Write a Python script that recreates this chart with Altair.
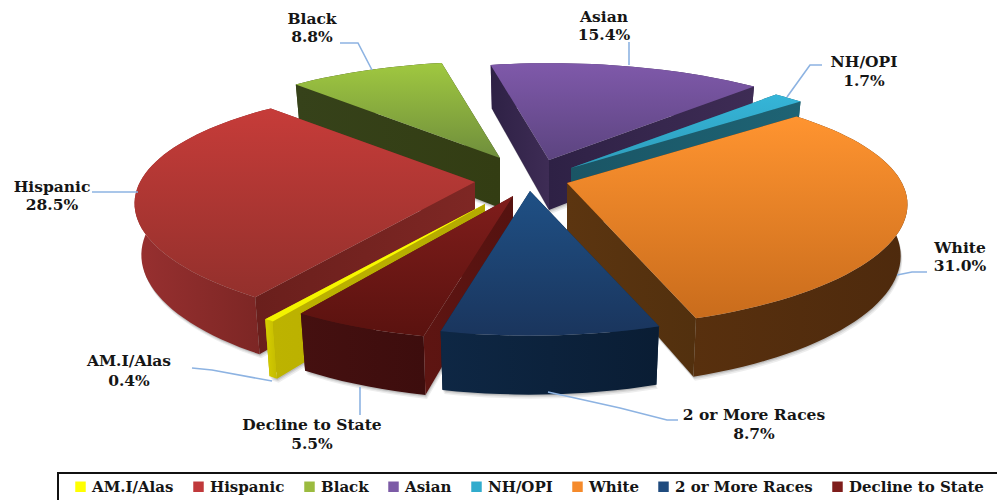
import math
import altair as alt

# Enrollment shares, listed clockwise starting at the narrow American Indian slice
categories = ["AM.I/Alas", "Hispanic", "Black", "Asian", "NH/OPI", "White",
              "2 or More Races", "Decline to State"]
shares = [0.4, 28.5, 8.8, 15.4, 1.7, 31.0, 8.7, 5.5]
legend_colors = ["#FFFF00", "#C0393B", "#9BBB3F", "#7C5BA6", "#31ACCD", "#F58A2B",
                 "#1F4B7E", "#7E1D1B"]

# Angle (degrees clockwise from the back of the pie) where the first slice begins
FIRST_ANGLE = 212.5

# 3D pie geometry
RX, RY, TILT, DEPTH = 335.0, 116.0, 0.198, 50.0
# Apex of each exploded slice in page units
apex = {
    "AM.I/Alas": (485, 204), "Hispanic": (475, 182), "Black": (500, 158),
    "Asian": (549, 160), "NH/OPI": (571, 168), "White": (567, 183),
    "2 or More Races": (530, 191), "Decline to State": (513, 196),
}
# Painter's order: farther slices first
draw_order = ["Asian", "NH/OPI", "Black", "Hispanic", "White", "AM.I/Alas",
              "Decline to State", "2 or More Races"]
# Top-face gradient, rim colour pair and radial wall colour pair
styles = {
    "AM.I/Alas": (("#FFFF00", "#F2F200"), ("#D6CE00", "#C4BB00"), ("#BDB300", "#B4AA00")),
    "Hispanic": (("#C63C39", "#93302C"), ("#983030", "#792523"), ("#6A1F1C", "#7E2724")),
    "Black": (("#A0C840", "#6F8E3C"), ("#3A4716", "#333D13"), ("#36421A", "#333D13")),
    "Asian": (("#7F59AA", "#5C4480"), ("#4A3266", "#3F2C58"), ("#2E2145", "#3E2C55")),
    "NH/OPI": (("#35B5D8", "#2E9DBC"), ("#1E6374", "#1B5A6B"), ("#1A5565", "#1E6374")),
    "White": (("#FF9430", "#C96C1C"), ("#58300E", "#4E2A0D"), ("#5C3510", "#52300E")),
    "2 or More Races": (("#1F5085", "#1A355D"), ("#0E2744", "#0A1D34"), ("#0E2A4A", "#0A1D34")),
    "Decline to State": (("#7F1D1B", "#5A120F"), ("#451010", "#3D0D0D"), ("#5E1512", "#551210")),
}


def project(name, deg, z=0.0):
    """Page position of a point on the rim of a slice, z = 0 top, z = 1 bottom."""
    ax, ay = apex[name]
    t = math.radians(deg)
    u, v = math.sin(t), -math.cos(t)
    s = 1.0 / (1.0 - TILT * v)
    shrink = 1.0 - 0.02 * z
    return (ax + u * RX * s ** 0.9 * shrink, ay + v * RY * s + z * DEPTH * s ** 0.75)


def apex_point(name, z=0.0):
    ax, ay = apex[name]
    return (ax, ay + z * DEPTH)


def feature(ring):
    pts = [list(p) for p in ring]
    pts.append(pts[0])
    return {"type": "Feature", "properties": {},
            "geometry": {"type": "Polygon", "coordinates": [pts]}}


def path(points):
    return {"type": "Feature", "properties": {},
            "geometry": {"type": "LineString", "coordinates": [list(p) for p in points]}}


def shape(feat, fill, opacity=1.0):
    return alt.Chart(alt.Data(values=[feat])).mark_geoshape(
        fill=fill, stroke="transparent", strokeWidth=0, opacity=opacity).project(
        type="identity", scale=1, translate=[0, 0])


def stroke_path(pts, color, width):
    return alt.Chart(alt.Data(values=[path(pts)])).mark_geoshape(
        filled=False, stroke=color, strokeWidth=width).project(
        type="identity", scale=1, translate=[0, 0])


def vgrad(a, b):
    return alt.Gradient(gradient="linear", x1=0, y1=0, x2=0, y2=1,
                        stops=[alt.GradientStop(color=a, offset=0),
                               alt.GradientStop(color=b, offset=1)])


def hgrad(a, b):
    return alt.Gradient(gradient="linear", x1=0, y1=0, x2=1, y2=0,
                        stops=[alt.GradientStop(color=a, offset=0),
                               alt.GradientStop(color=b, offset=1)])


# Slice angle ranges follow directly from the shares
bounds = {}
angle = FIRST_ANGLE
for cat, share in zip(categories, shares):
    sweep = share * 3.6
    bounds[cat] = (angle, angle + sweep)
    angle += sweep

shadow_layers = []
layers = []
for name in draw_order:
    a0, a1 = bounds[name]
    steps = max(2, int((a1 - a0) / 2))
    degs = [a0 + (a1 - a0) * i / steps for i in range(steps + 1)]
    top_rim = [project(name, d) for d in degs]
    low_rim = [project(name, d, 1.0) for d in degs]
    top_c, rim_c, wall_c = styles[name]
    A_top, A_low = apex_point(name), apex_point(name, 1.0)

    # Soft drop shadow under the base of the slice
    for off, op in ((4, 0.07), (2.5, 0.09), (1.2, 0.12)):
        shadow_layers.append(shape(
            feature([(x + off * 0.4, y + off) for x, y in [A_low] + low_rim]),
            "#000000", op))

    mid = project(name, (a0 + a1) / 2)
    walls = []
    for edge_top, edge_low in ((top_rim[0], low_rim[0]), (top_rim[-1], low_rim[-1])):
        dx, dy = edge_top[0] - A_top[0], edge_top[1] - A_top[1]
        line_y = dy / dx * (mid[0] - A_top[0]) + A_top[1]
        facing = mid[1] < line_y  # wedge lies above this edge, so the wall shows
        walls.append((facing, feature([A_top, edge_top, edge_low, A_low]), wall_c))
    # Back-facing radial walls go first, then the outer rim, then facing walls
    for facing, feat, col in walls:
        if not facing:
            layers.append(shape(feat, hgrad(col[1], col[0])))
    layers.append(shape(feature(top_rim + low_rim[::-1]), hgrad(rim_c[0], rim_c[1])))
    for facing, feat, col in walls:
        if facing:
            layers.append(shape(feat, hgrad(col[0], col[1])))
    layers.append(shape(feature([A_top] + top_rim), vgrad(top_c[0], top_c[1])))

# Leader lines from the labels to the slices
leaders = [
    [(92, 192), (138, 192)],
    [(340, 43), (358, 43), (372, 70)],
    [(629, 42), (629, 65)],
    [(822, 65), (810, 65), (787, 97)],
    [(897, 275), (912, 272), (927, 272)],
    [(548, 392), (620, 408), (667, 420), (678, 420)],
    [(360, 387), (360, 415)],
    [(192, 368), (212, 370), (272, 381)],
]
for pts in leaders:
    layers.append(stroke_path(pts, "#8DB3E2", 1.6))

# Frame around the legend, open toward the page edges
layers.append(stroke_path([(58, 503), (58, 473), (1000, 473)], "#111111", 2))

# Slice labels: name on the first line, share on the second
label_pos = {
    "Black": (312, 19, 37), "Asian": (604, 17, 35), "NH/OPI": (864, 62, 81),
    "White": (960, 248, 266), "2 or More Races": (754, 415, 434),
    "Decline to State": (312, 425, 444), "AM.I/Alas": (129, 361, 381),
    "Hispanic": (52, 187, 205),
}
rows = []
for cat, share in zip(categories, shares):
    x, y1, y2 = label_pos[cat]
    rows.append({"t": cat, "x": x, "y": y1})
    rows.append({"t": f"{share:.1f}%", "x": x, "y": y2})

labels = alt.Chart(alt.Data(values=rows)).mark_text(
    font="DejaVu Serif", fontWeight="bold", fontSize=15.5, color="#151515",
    align="center", baseline="middle").encode(
    x=alt.X("x:Q", scale=None), y=alt.Y("y:Q", scale=None), text="t:N")

legend_rows = [{"c": c, "x": 0, "y": 0} for c in categories]
legend_layer = alt.Chart(alt.Data(values=legend_rows)).mark_square(size=0).encode(
    x=alt.X("x:Q", scale=None), y=alt.Y("y:Q", scale=None),
    color=alt.Color("c:N", sort=categories,
                    scale=alt.Scale(domain=categories, range=legend_colors),
                    legend=alt.Legend(
                        title=None, orient="none", legendX=70, legendY=476,
                        direction="horizontal", columns=8, symbolType="square",
                        symbolSize=110, symbolStrokeWidth=0, symbolOpacity=1,
                        labelFont="DejaVu Serif", labelFontWeight="bold",
                        labelFontSize=15, labelColor="#151515", labelLimit=300,
                        columnPadding=17, padding=3, labelOffset=4)))

chart = alt.layer(*shadow_layers, *layers, labels, legend_layer).properties(
    width=997, height=500, padding=0, autosize=alt.AutoSizeParams(type="none"),
).configure_view(stroke=None)

chart.save("out.html", embed_options={"renderer": "svg", "actions": False})
